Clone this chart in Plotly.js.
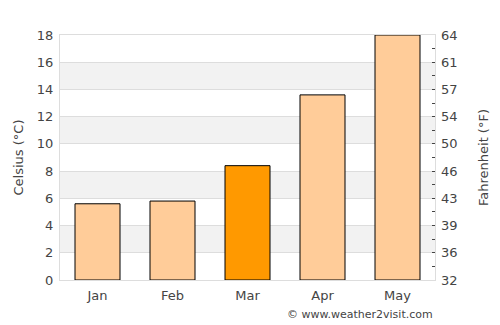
<!DOCTYPE html>
<html>
<head>
<meta charset="utf-8">
<script src="https://cdn.plot.ly/plotly-3.0.1.min.js"></script>
<style>html,body{margin:0;padding:0;background:#fff;}#chart{width:500px;height:325px;}</style>
</head>
<body>
<div id="chart"></div>
<script>
const months = ["Jan", "Feb", "Mar", "Apr", "May"];
const celsius = [5.6, 5.8, 8.4, 13.6, 18];
const barColors = ["#ffcc99", "#ffcc99", "#ff9900", "#ffcc99", "#ffcc99"];
const cTicks = [0, 2, 4, 6, 8, 10, 12, 14, 16, 18];
const yMax = 18;

const toF = c => c * 9 / 5 + 32;
const fTickVals = [];
const fTickText = [];
for (let c = 0; c <= yMax; c += 1) {
  fTickVals.push(c);
  fTickText.push(c % 2 === 0 ? String(Math.round(toF(c))) : "");
}

const shapes = [];
for (let i = 1; i + 1 < cTicks.length; i += 2) {
  shapes.push({type: "rect", xref: "paper", yref: "y", x0: 0, x1: 1,
    y0: cTicks[i], y1: cTicks[i + 1], fillcolor: "#f2f2f2", line: {width: 0}, layer: "below"});
}

const textColor = "#444";
const font = {family: "DejaVu Sans, sans-serif", size: 13, color: textColor};

const data = [
  {type: "bar", x: months, y: celsius, marker: {color: barColors, line: {color: "#000", width: 1}},
   hoverinfo: "skip"},
  {type: "scatter", x: months, y: celsius, yaxis: "y2", mode: "markers", marker: {opacity: 0},
   hoverinfo: "skip", showlegend: false}
];

const layout = {
  width: 500, height: 325,
  margin: {l: 60, r: 65, t: 35, b: 45},
  paper_bgcolor: "#fff", plot_bgcolor: "#fff",
  font: font,
  showlegend: false,
  bargap: 0.4,
  shapes: shapes,
  xaxis: {type: "category", showgrid: false, showline: true, linecolor: "#ddd", linewidth: 1,
    ticks: "", tickfont: font, mirror: true, fixedrange: true, ticklabelstandoff: 3},
  yaxis: {range: [0, yMax], tickvals: cTicks, showgrid: true, gridcolor: "#ddd", gridwidth: 1,
    zeroline: false, showline: true, linecolor: "#ddd", mirror: true, ticks: "",
    ticklabelstandoff: 3,
    tickfont: font, title: {text: "Celsius (°C)", font: font, standoff: 10}},
  yaxis2: {overlaying: "y", side: "right", range: [0, yMax], tickvals: fTickVals, ticktext: fTickText,
    showgrid: false, zeroline: false, showline: false, ticks: "inside", ticklen: 3, tickcolor: "#444",
    ticklabelstandoff: 5,
    tickfont: font, title: {text: "Fahrenheit (°F)", font: font, standoff: 22}},
  annotations: [{xref: "paper", yref: "paper", x: 1, y: -0.105, xanchor: "right", yanchor: "top",
    text: "© www.weather2visit.com", showarrow: false, font: {family: "DejaVu Sans, sans-serif", size: 11, color: textColor}}]
};

Plotly.newPlot("chart", data, layout, {staticPlot: true, displayModeBar: false});
</script>
</body>
</html>
